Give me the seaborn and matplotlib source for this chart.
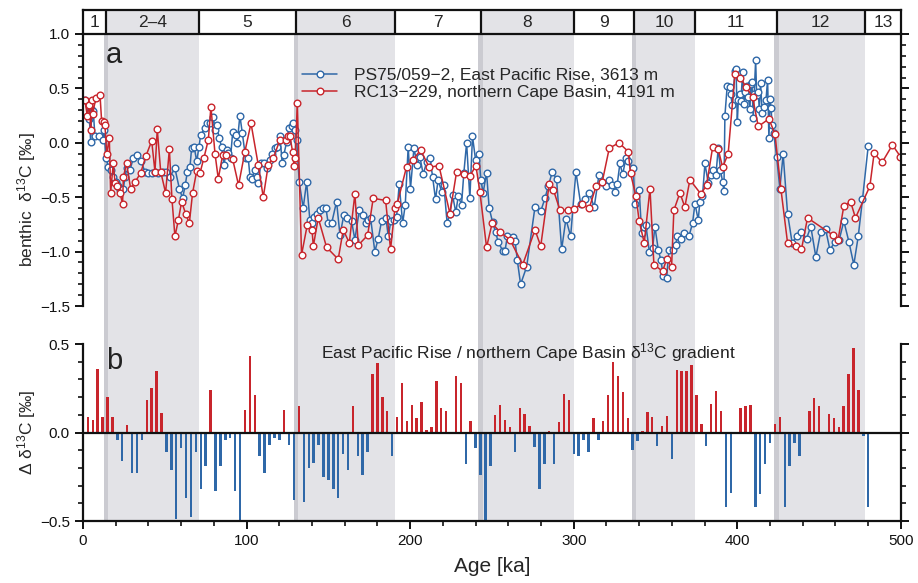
import numpy as np
import pandas as pd
import matplotlib
matplotlib.use('Agg')
import matplotlib.pyplot as plt
import seaborn as sns
from matplotlib.ticker import MultipleLocator

# --- data: PS75/059-2 (East Pacific Rise) ---
blue_age = [1.2, 3.9, 4.7, 5.3, 6.3, 7.3, 10.0, 12.0, 12.8, 14.1, 15.5, 16.9, 18.5, 20.2, 21.6, 22.6,
            24.7, 25.7, 26.7, 28.7, 30.8, 33.2, 35.4, 37.9, 39.9, 42.0, 44.0, 46.0, 48.7, 50.7, 53.2,
            56.2, 58.9, 60.9, 62.5, 63.8, 65.4, 66.4, 68.0, 69.5, 70.9, 71.9, 74.6, 76.0, 77.6, 79.6,
            80.7, 81.7, 83.3, 84.7, 86.2, 87.8, 88.8, 90.2, 91.5, 93.5, 94.3, 95.9, 97.4, 99.4, 101.0,
            102.1, 103.3, 104.9, 106.1, 107.1, 108.8, 110.6, 112.2, 114.3, 115.5, 117.3, 118.8, 120.4,
            121.8, 122.8, 124.5, 125.9, 127.5, 128.5, 129.6, 130.6, 132.2, 134.6, 136.7, 138.7, 139.7,
            141.2, 142.8, 144.8, 146.9, 148.5, 149.9, 152.0, 155.0, 157.1, 159.5, 161.5, 164.2, 166.2,
            168.9, 170.9, 172.9, 174.4, 175.8, 178.4, 180.5, 182.5, 185.2, 186.6, 188.2, 190.1, 191.7,
            193.3, 195.4, 197.0, 198.8, 200.2, 202.3, 204.3, 205.9, 208.0, 210.0, 212.1, 213.7, 215.5,
            217.1, 219.2, 220.6, 222.6, 224.3, 225.9, 227.9, 229.4, 231.4, 232.8, 234.5, 236.5, 238.1,
            240.0, 242.0, 243.2, 244.6, 246.7, 248.3, 250.4, 252.2, 253.8, 256.5, 258.0, 259.4, 262.6,
            264.1, 265.5, 267.5, 271.2, 276.3, 279.8, 282.4, 284.4, 286.9, 289.5, 292.6, 295.2, 298.1,
            301.3, 304.2, 306.8, 309.5, 312.5, 315.4, 317.0, 319.7, 321.7, 323.3, 325.2, 326.6, 328.2,
            329.9, 331.9, 333.3, 336.4, 337.4, 340.0, 341.5, 342.9, 344.1, 346.2, 348.2, 349.6, 351.7,
            353.3, 354.7, 356.8, 358.2, 360.4, 362.3, 363.3, 365.3, 367.3, 370.4, 372.6, 374.1, 376.1,
            377.1, 378.7, 380.2, 382.2, 383.6, 385.3, 386.9, 388.3, 389.7, 391.0, 391.8,
            392.4, 393.8, 395.5, 395.9, 396.9, 398.6, 399.2, 400.0, 400.6, 401.6, 402.2, 403.2, 404.2,
            404.6, 405.7, 406.7, 407.7, 408.3, 408.9, 409.7, 410.3, 411.2, 411.8, 412.8, 413.4, 414.2,
            415.2, 416.3, 417.5, 418.5, 419.3, 420.0, 420.6, 421.3, 422.2, 424.0,
            426.0, 428.0, 430.7, 433.5, 436.2, 439.2, 442.3, 444.9, 448.0, 450.9, 453.9, 456.6, 459.6,
            462.3, 465.1, 468.2, 471.2, 473.9, 476.5, 480.0]
blue_d13c = [0.39, 0.22, 0.01, 0.30, 0.29, 0.06, 0.06, 0.03, 0.12, -0.14, -0.22, -0.25, -0.31, -0.36, -0.40, -0.43,
             -0.42, -0.31, -0.235, -0.25, -0.14, -0.11, -0.17, -0.265, -0.275, -0.275, -0.265, -0.275, -0.265, -0.265, -0.31,
             -0.235, -0.42, -0.51, -0.39, -0.265, -0.22, -0.05, -0.04, -0.17, -0.04, 0.07, 0.14, 0.185, 0.18, 0.24,
             0.12, 0.165, 0.04, -0.035, -0.20, -0.066, -0.09, -0.14, 0.10, 0.07, 0.0, 0.25, 0.09, -0.14, -0.14,
             -0.31, -0.33, -0.25, -0.31, -0.37, -0.19, -0.19, -0.235, -0.16, -0.10, -0.05, -0.035, 0.06,
             -0.19, -0.11, 0.01, 0.135, 0.15, 0.18, 0.12, 0.03, -0.36, -0.60, -0.36, -0.71, -0.74,
             -0.68, -0.65, -0.62, -0.60, -0.60, -0.74, -0.74, -0.54, -0.85, -0.66, -0.69, -0.72, -0.89,
             -0.62, -0.66, -0.74, -0.71, -0.69, -1.00, -0.88, -0.72, -0.69, -0.86, -0.72, -0.71, -0.68,
             -0.38, -0.74, -0.57, -0.035, -0.42, -0.05, -0.20, -0.127, -0.29, -0.18, -0.14, -0.31, -0.52,
             -0.34, -0.45, -0.39, -0.74, -0.65, -0.48, -0.64, -0.49, -0.57, -0.28, 0.0, -0.51, 0.06,
             -0.16, -0.10, -0.34, -0.46, -0.275, -0.60, -0.73, -0.82, -0.91, -0.99, -0.99, -0.86, -0.87,
             -0.90, -1.08, -1.30, -1.14, -0.59, -0.63, -0.51, -0.40, -0.265, -0.335, -0.98, -0.70, -0.86,
             -0.265, -0.56, -0.52, -0.46, -0.59, -0.295, -0.36, -0.40, -0.34, -0.39, -0.45, -0.38, -0.19,
             -0.29, -0.14, -0.17, -0.235, -0.56, -0.43, -0.83, -0.77, -0.755, -1.00, -0.97, -0.77, -0.985,
             -1.08, -1.22, -1.24, -0.985, -0.985, -0.94, -0.86, -0.88, -0.83, -0.86, -0.74, -0.56, -0.71,
             -0.54, -0.49, -0.19, -0.37, -0.295, -0.25, -0.30, -0.05, -0.25, -0.36, -0.44,
             0.25, 0.52, 0.51, 0.45, 0.35, 0.66, 0.68, 0.19, 0.39, 0.45, 0.38, 0.65, 0.36,
             0.47, 0.52, 0.42, 0.31, 0.54, 0.56, 0.225, 0.45, 0.76, 0.44, 0.47, 0.31, 0.55,
             0.27, 0.33, 0.39, 0.58, 0.04, 0.40, 0.32, 0.16, 0.09, -0.127,
             -0.42, -0.106, -0.65, -0.92, -0.86, -0.82, -0.88, -0.77, -1.05, -0.82, -0.79, -0.985, -0.91,
             -0.89, -0.72, -0.91, -1.12, -0.86, -0.52, -0.03]

# --- data: RC13-229 (northern Cape Basin) ---
red_age = [1.2, 2.6, 3.9, 4.7, 5.7, 5.9, 7.9, 10.4, 11.4, 12.8, 13.4, 14.5, 16.1, 16.9, 18.5, 19.6, 21.0,
           22.6, 24.2, 24.7, 26.7, 29.1, 31.8, 35.2, 38.5, 42.0, 44.0, 45.4, 47.5, 50.5, 52.8, 54.4, 56.2,
           58.3, 60.3, 62.7, 65.0, 67.0, 69.5, 71.5, 73.9, 76.6, 78.2, 80.7, 82.7, 85.4, 87.4, 91.5, 95.1,
           99.0, 102.7, 107.1, 110.2, 113.3, 116.3, 120.4, 123.9, 125.5, 126.5, 128.1, 129.0, 129.8, 131.0,
           133.6, 137.1, 140.0, 140.8, 143.8, 148.9, 156.0, 159.1, 162.8, 166.2, 168.3, 174.0, 177.4, 185.0,
           188.0, 190.7, 192.1, 197.8, 201.5, 206.4, 211.6, 217.6, 224.3, 228.4, 232.8, 236.5, 240.2, 242.6,
           246.7, 250.1, 254.9, 261.0, 268.8, 276.3, 279.8, 285.0, 287.5, 291.6, 296.2, 300.3, 304.8, 309.5,
           313.6, 317.4, 321.7, 327.6, 333.3, 334.7, 338.0, 340.0, 343.1, 346.6, 349.0, 354.3, 356.8, 359.8,
           361.2, 364.9, 367.9, 371.0, 377.7, 381.2, 384.9, 388.3, 391.0, 394.4, 398.5, 401.6, 405.6, 409.3,
           412.8, 419.3, 423.0, 426.6, 430.7, 435.8, 439.2, 442.9, 458.6, 461.6, 465.1, 469.2, 472.2, 481.0,
           483.6, 488.5, 494.8, 499.7]
red_d13c = [0.39, 0.25, 0.35, 0.12, 0.39, 0.265, 0.415, 0.44, 0.20, 0.195, 0.165, -0.10, 0.04, -0.46, -0.19, -0.37, -0.40,
            -0.46, -0.56, -0.31, -0.19, -0.42, -0.36, -0.28, -0.12, 0.017, -0.265, 0.125, -0.265, -0.46, -0.06, -0.52, -0.86,
            -0.71, -0.54, -0.65, -0.74, -0.46, -0.26, -0.28, -0.14, 0.026, 0.33, -0.10, -0.33, -0.11, -0.11, -0.15, -0.39,
            -0.08, 0.18, -0.20, -0.50, -0.20, -0.14, 0.026, 0.026, 0.06, 0.06, -0.08, -0.21, -0.14, 0.37,
            -1.03, -0.755, -0.80, -0.95, -0.69, -0.96, -1.07, -0.80, -0.92, -0.47, -0.94, -0.85, -0.51, -0.53,
            -0.98, -0.60, -0.56, -0.22, -0.16, -0.066, -0.225, -0.21, -0.65, -0.265, -0.29, -0.305, -0.21, -0.45,
            -0.96, -0.74, -0.82, -0.89, -1.12, -0.80, -0.95, -0.38, -0.43, -0.62, -0.62, -0.61, -0.56, -0.60,
            -0.40, -0.36, -0.05, 0.0, -0.08, -0.28, -0.49, -0.72, -0.92, -0.42, -1.12, -1.18, -1.07, -1.14,
            -0.62, -0.46, -0.59, -0.34, -0.47, -0.39, -0.04, -0.057, -0.225, -0.10, 0.63, 0.60, 0.51, 0.42,
            0.15, 0.22, 0.08, -0.42, -0.92, -0.95, -0.98, -0.69, -0.85, -0.89, -0.58, -0.54, -0.69, -0.40,
            -0.097, -0.18, -0.02, -0.127]

# --- data: gradient (East Pacific Rise minus northern Cape Basin), 3 ka steps ---
grad_age = np.arange(3, 481, 3)
gradient = [0.09, 0.07, 0.36, 0.09, 0.20, 0.09, -0.045, -0.16, 0.045, -0.23, -0.23, -0.04, 0.185, 0.25, 0.35, 0.11,
            -0.11, -0.21, -0.49, -0.085, -0.37, -0.48, -0.11, -0.32, -0.19, 0.24, -0.33, -0.19, -0.045, -0.03,
            -0.33, -0.50, 0.13, 0.43, 0.21, -0.13, -0.23, -0.07, -0.03, -0.045, 0.13, -0.07, -0.38, 0.15, -0.39,
            -0.20, -0.17, -0.07, -0.25, -0.27, -0.32, -0.37, -0.12, -0.21, 0.15, -0.13,
            -0.24, -0.11, 0.33, 0.39, 0.20, 0.12, -0.13, 0.09, 0.28, 0.066, 0.157, 0.083, 0.17, 0.017, 0.034,
            0.29, 0.14, 0.12, -0.01, 0.32, 0.28, -0.18, 0.066, -0.09, -0.24, -0.50, -0.19, 0.10, 0.157, 0.072,
            0.032, -0.11, 0.14, 0.106, 0.038, -0.08, -0.32, -0.175, 0.01, -0.18, 0.06, 0.22, 0.185, -0.12, -0.13,
            -0.04, -0.11, 0.083, -0.04, 0.066, 0.21, 0.40, 0.32, 0.23,
            0.083, -0.096, -0.05, 0.006, 0.117, 0.089, -0.074, 0.038, 0.094, -0.147, 0.355, 0.35, 0.35, 0.38,
            0.21, 0.05, -0.074, 0.16, 0.236, 0.12, -0.42, -0.34, -0.01, 0.14, 0.15, 0.157, -0.42, -0.345, -0.18,
            -0.057, 0.05, 0.089, -0.42, -0.19, -0.06, -0.13, -0.01, 0.12, 0.196, 0.15, 0.005, 0.106, 0.083, 0.032,
            0.15, 0.33, 0.48, 0.24, -0.017, -0.42]

# marine isotope stages
mis_bounds = [0, 14, 71, 130, 191, 243, 300, 337, 374, 424, 478, 500]
mis_labels = ['1', '2–4', '5', '6', '7', '8', '9', '10', '11', '12', '13']
glacials = [(14, 71), (130, 191), (243, 300), (337, 374), (424, 478)]

# --- style ---
sns.set_style('ticks')
plt.rcParams['font.family'] = ['Liberation Sans', 'DejaVu Sans']
plt.rcParams['mathtext.fontset'] = 'custom'
plt.rcParams['mathtext.rm'] = 'Liberation Sans'
plt.rcParams['mathtext.it'] = 'Liberation Sans:italic'
plt.rcParams['axes.linewidth'] = 1.6
plt.rcParams['axes.edgecolor'] = '#111111'
plt.rcParams['xtick.color'] = '#111111'
plt.rcParams['ytick.color'] = '#111111'

BLUE = '#2f68a8'
RED = '#c8252c'
LIGHT = '#e3e3e7'
DARK = '#cbcbd1'
FS = 12.5

fig = plt.figure(figsize=(9.18, 5.83), dpi=100)
x0, w = 0.0904, 0.891

# shading behind both panels
bg = fig.add_axes([x0, 0.1063, w, 0.8354], zorder=0)
bg.set_xlim(0, 500)
bg.axis('off')
for s, e in glacials:
    bg.axvspan(s, e, color=LIGHT, lw=0)
    bg.axvspan(s - 1.3, s + 1.3, color=DARK, lw=0)

# stage bar
st = fig.add_axes([x0, 0.9417, w, 0.0411], zorder=2)
st.set_xlim(0, 500)
st.set_ylim(0, 1)
st.set_xticks([])
st.set_yticks([])
for i, lab in enumerate(mis_labels):
    a, b = mis_bounds[i], mis_bounds[i + 1]
    if i % 2 == 1:
        st.axvspan(a, b, color=LIGHT, lw=0)
    if i > 0:
        st.axvline(a, color='#111111', lw=1.6)
    st.text((a + b) / 2, 0.46, lab, ha='center', va='center', fontsize=FS)

# panel a
ax1 = fig.add_axes([x0, 0.4751, w, 0.4666], zorder=2)
ax1.set_facecolor('none')
sns.lineplot(x=blue_age, y=blue_d13c, color=BLUE, lw=1.1, marker='o', markersize=4.8,
             markerfacecolor='white', markeredgecolor=BLUE, markeredgewidth=1.0,
             estimator=None, label='PS75/059−2, East Pacific Rise, 3613 m', ax=ax1)
sns.lineplot(x=red_age, y=red_d13c, color=RED, lw=1.1, marker='o', markersize=4.8,
             markerfacecolor='white', markeredgecolor=RED, markeredgewidth=1.0,
             estimator=None, label='RC13−229, northern Cape Basin, 4191 m', ax=ax1)
ax1.set_xlim(0, 500)
ax1.set_ylim(-1.5, 1.0)
ax1.set_yticks([-1.5, -1.0, -0.5, 0.0, 0.5, 1.0])
ax1.yaxis.set_minor_locator(MultipleLocator(0.1))
ax1.spines['top'].set_visible(False)
ax1.spines['bottom'].set_visible(False)
ax1.tick_params(axis='x', bottom=False, labelbottom=False)
ax1.tick_params(axis='y', which='both', left=True, right=True, direction='out', labelsize=11)
ax1.tick_params(axis='y', which='major', length=6, width=1.4)
ax1.tick_params(axis='y', which='minor', length=3.5, width=1.2)
ax1.set_xlabel('')
ax1.set_ylabel('benthic  δ$^{13}$C [‰]', fontsize=FS)
ax1.yaxis.set_label_coords(-0.055, 0.39)
ax1.text(14, 0.73, 'a', fontsize=21, ha='left', va='baseline', color='#222222')
ax1.legend(loc='upper left', bbox_to_anchor=(0.268, 0.875), frameon=False, fontsize=FS,
           handlelength=2.0, handletextpad=1.0, labelspacing=0.12, borderpad=0, borderaxespad=0)

# panel b
ax2 = fig.add_axes([x0, 0.1063, w, 0.3036], zorder=2)
ax2.set_facecolor('none')
bar_colors = [RED if g >= 0 else BLUE for g in gradient]
ax2.bar(grad_age, gradient, width=1.5, color=bar_colors, lw=0, zorder=2)
ax2.axhline(0, color='#111111', lw=1.6, zorder=3)
ax2.set_xlim(0, 500)
ax2.set_ylim(-0.5, 0.5)
ax2.set_xticks([0, 100, 200, 300, 400, 500])
ax2.set_yticks([-0.5, 0.0, 0.5])
ax2.xaxis.set_minor_locator(MultipleLocator(20))
ax2.yaxis.set_minor_locator(MultipleLocator(0.1))
ax2.spines['top'].set_visible(False)
ax2.tick_params(axis='y', which='both', left=True, right=True, direction='out')
ax2.tick_params(axis='x', which='both', bottom=True, direction='out')
ax2.tick_params(which='major', length=6, width=1.4, labelsize=11)
ax2.tick_params(which='minor', length=3.5, width=1.2)
ax2.set_xlabel('Age [ka]', fontsize=15, labelpad=6)
ax2.set_ylabel('Δ δ$^{13}$C [‰]', fontsize=FS)
ax2.yaxis.set_label_coords(-0.055, 0.5)
ax2.text(14, 0.36, 'b', fontsize=21, ha='left', va='baseline', color='#222222')
ax2.text(272, 0.42, 'East Pacific Rise / northern Cape Basin δ$^{13}$C gradient',
         ha='center', va='baseline', fontsize=FS, color='#222222')

fig.savefig('out.png', dpi=100)
